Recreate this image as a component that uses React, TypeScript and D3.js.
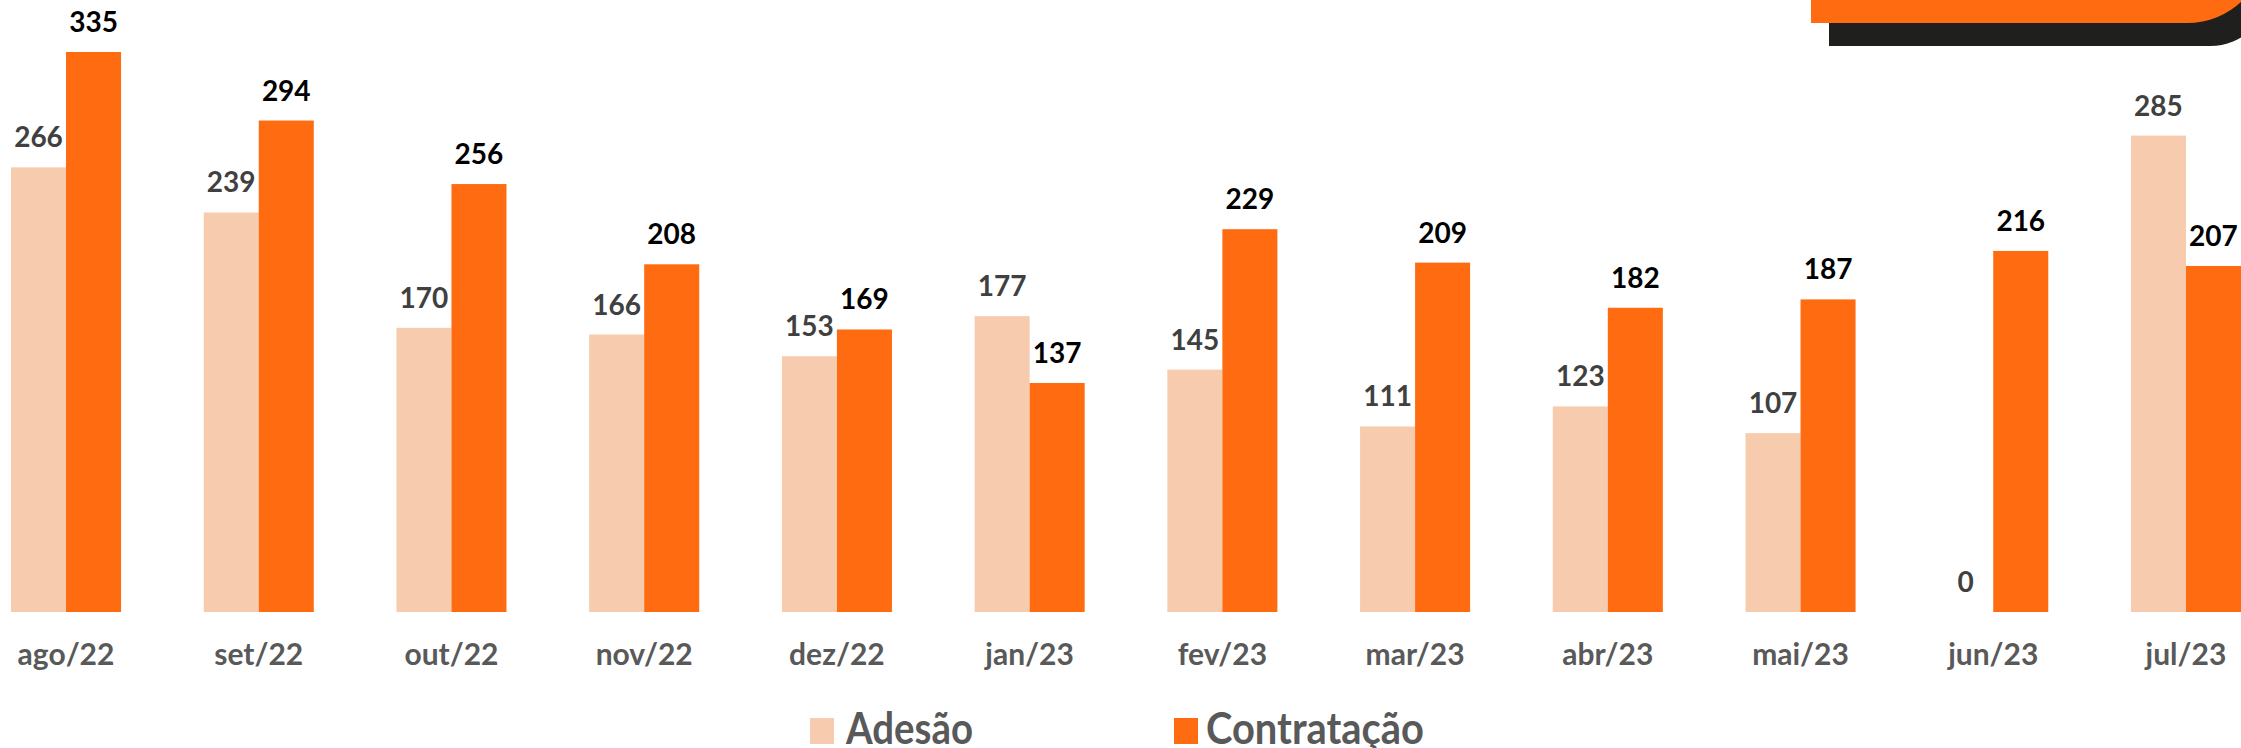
import React from 'react';
import * as d3 from 'd3';

const months = ['ago/22', 'set/22', 'out/22', 'nov/22', 'dez/22', 'jan/23', 'fev/23', 'mar/23', 'abr/23', 'mai/23', 'jun/23', 'jul/23'];
const adesao = [266, 239, 170, 166, 153, 177, 145, 111, 123, 107, 0, 285];
const contratacao = [335, 294, 256, 208, 169, 137, 229, 209, 182, 187, 216, 207];
const seriesNames = ['Adesão', 'Contratação'];
const colors = ['#f7cbad', '#ff6b10'];
const labelColors = ['#404040', '#000000'];

const W = 2241;
const H = 748;
const baseline = 612;
const font = 'Lato, "Open Sans", sans-serif';

const App = () => {
  // x: one band per month, split in two bars
  const x = d3.scaleBand().domain(months).range([11, 2241]).paddingInner(0.429).paddingOuter(0);
  const x1 = d3.scaleBand().domain(seriesNames).range([0, x.bandwidth()]);
  const y = d3.scaleLinear().domain([0, 335]).range([baseline, 52]);

  const series = [adesao, contratacao];

  // legend layout
  const legend = [
    { sx: 810, tx: 846, len: 127 },
    { sx: 1174, tx: 1206, len: 218 },
  ];

  return (
    <svg width={W} height={H} style={{ position: 'absolute', left: 0, top: 0 }}>
      <rect width={W} height={H} fill="#fff" />

      {/* top-right decoration */}
      <path d="M1829,-100 H2270 V-14 A60,60 0 0 1 2210,46 H1829 Z" fill="#1f1f1d" />
      <path d="M1811,-100 H2267 V-57 A80,80 0 0 1 2187,23 H1811 Z" fill="#ff6b10" />

      {series.map((vals, s) => (
        <g key={seriesNames[s]}>
          {vals.map((v, i) => {
            const bx = (x(months[i]) ?? 0) + (x1(seriesNames[s]) ?? 0);
            return (
              <g key={i}>
                <rect x={bx} y={y(v)} width={x1.bandwidth()} height={baseline - y(v)} fill={colors[s]} />
                <text
                  x={bx + x1.bandwidth() / 2}
                  y={y(v) - 20}
                  textAnchor="middle"
                  fontFamily={font}
                  fontWeight="bold"
                  fontSize={28}
                  fill={labelColors[s]}
                >
                  {v}
                </text>
              </g>
            );
          })}
        </g>
      ))}

      {months.map((m) => (
        <text
          key={m}
          x={(x(m) ?? 0) + x.bandwidth() / 2}
          y={665}
          textAnchor="middle"
          fontFamily={font}
          fontWeight="bold"
          fontSize={30}
          fill="#595959"
        >
          {m}
        </text>
      ))}

      {/* legend */}
      {seriesNames.map((name, s) => (
        <g key={name}>
          <rect x={legend[s].sx} y={718} width={24} height={26} fill={colors[s]} />
          <text
            x={legend[s].tx}
            y={744}
            fontFamily={font}
            fontWeight="bold"
            fontSize={43}
            fill="#595959"
            textLength={legend[s].len}
            lengthAdjust="spacingAndGlyphs"
          >
            {name}
          </text>
        </g>
      ))}
    </svg>
  );
};

export default App;
